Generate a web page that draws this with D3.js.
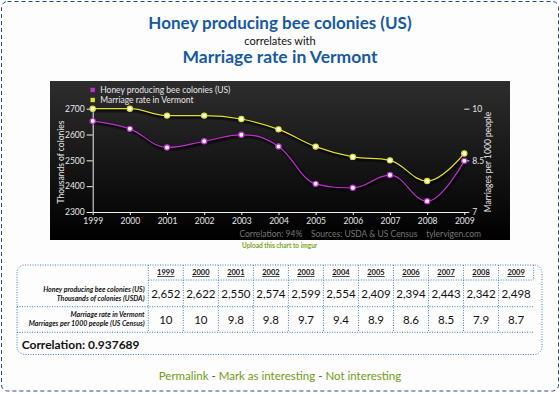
<!DOCTYPE html>
<html>
<head>
<meta charset="utf-8">
<script src="https://cdn.jsdelivr.net/npm/d3@7"></script>
<style>
  html, body { margin: 0; padding: 0; background: #fff; }
  svg { display: block; }
  text { font-family: Lato, "DejaVu Sans", sans-serif; }
</style>
</head>
<body>
<div id="chart"></div>
<script>
// values
var years = [1999, 2000, 2001, 2002, 2003, 2004, 2005, 2006, 2007, 2008, 2009];
var honey = [2652, 2622, 2550, 2574, 2599, 2554, 2409, 2394, 2443, 2342, 2498];
var marriage = [10, 10, 9.8, 9.8, 9.7, 9.4, 8.9, 8.6, 8.5, 7.9, 8.7];
var honeyTicks = [2300, 2400, 2500, 2600, 2700];
var marriageTicks = [7, 8.5, 10];

var titleA = 'Honey producing bee colonies (US)';
var titleB = 'Marriage rate in Vermont';
var unitsA = 'Thousands of colonies (USDA)';
var unitsB = 'Marriages per 1000 people (US Census)';
var correlation = 0.937689;

var W = 560, H = 395;
var PURPLE = '#c030d0', YELLOW = '#e0e030';

var svg = d3.select('#chart').append('svg')
    .attr('width', W)
    .attr('height', H);

var defs = svg.append('defs');
var grad = defs.append('linearGradient')
    .attr('id', 'bg')
    .attr('x1', 0).attr('y1', 0).attr('x2', 0).attr('y2', 1);
grad.append('stop').attr('offset', '0%').attr('stop-color', '#2d2d2d');
grad.append('stop').attr('offset', '100%').attr('stop-color', '#000');

// page frame
svg.append('rect')
    .attr('x', 1.5).attr('y', 1.5)
    .attr('width', W - 3).attr('height', 389.5)
    .attr('rx', 6)
    .attr('fill', '#fdfdfd')
    .attr('stroke', '#1d4c8e')
    .attr('stroke-dasharray', '4,3');

// headline
svg.append('text')
    .attr('x', 280).attr('y', 29)
    .attr('text-anchor', 'middle')
    .attr('font-size', 17).attr('font-weight', 'bold')
    .attr('fill', '#17599f')
    .text(titleA);
svg.append('text')
    .attr('x', 280).attr('y', 44.5)
    .attr('text-anchor', 'middle')
    .attr('font-size', 11)
    .attr('fill', '#111')
    .text('correlates with');
svg.append('text')
    .attr('x', 280).attr('y', 62.5)
    .attr('text-anchor', 'middle')
    .attr('font-size', 17.5).attr('font-weight', 'bold')
    .attr('fill', '#17599f')
    .text(titleB);

// dark chart panel
svg.append('rect')
    .attr('x', 50).attr('y', 81)
    .attr('width', 460).attr('height', 159)
    .attr('fill', 'url(#bg)');

var x = d3.scaleLinear().domain([1999, 2009]).range([92.7, 464.3]);
var yL = d3.scaleLinear().domain([2300, 2700]).range([212, 108.7]);
var yR = d3.scaleLinear().domain([7, 10]).range([212, 108.7]);

// spline in the style of highcharts: control points at 1.5 smoothing,
// flattened where they would make a false extreme
function SplineCurve(context) { this._context = context; }
SplineCurve.prototype = {
    areaStart: function() {},
    areaEnd: function() {},
    lineStart: function() { this._pts = []; },
    point: function(px, py) { this._pts.push([+px, +py]); },
    lineEnd: function() {
        var pts = this._pts, ctx = this._context, n = pts.length;
        if (!n) return;
        var ctl = pts.map(function(p, i) {
            var last = pts[i - 1], next = pts[i + 1];
            if (!last || !next) return null;
            var s = 1.5, den = s + 1;
            var lx = (s * p[0] + last[0]) / den, ly = (s * p[1] + last[1]) / den;
            var rx = (s * p[0] + next[0]) / den, ry = (s * p[1] + next[1]) / den;
            var corr = 0;
            if (rx !== lx) corr = ((ry - ly) * (rx - p[0])) / (rx - lx) + p[1] - ry;
            ly += corr; ry += corr;
            if (ly > last[1] && ly > p[1]) { ly = Math.max(last[1], p[1]); ry = 2 * p[1] - ly; }
            else if (ly < last[1] && ly < p[1]) { ly = Math.min(last[1], p[1]); ry = 2 * p[1] - ly; }
            if (ry > next[1] && ry > p[1]) { ry = Math.max(next[1], p[1]); ly = 2 * p[1] - ry; }
            else if (ry < next[1] && ry < p[1]) { ry = Math.min(next[1], p[1]); ly = 2 * p[1] - ry; }
            return { l: [lx, ly], r: [rx, ry] };
        });
        ctx.moveTo(pts[0][0], pts[0][1]);
        for (var i = 1; i < n; i++) {
            var a = ctl[i - 1] ? ctl[i - 1].r : pts[i - 1];
            var b = ctl[i] ? ctl[i].l : pts[i];
            ctx.bezierCurveTo(a[0], a[1], b[0], b[1], pts[i][0], pts[i][1]);
        }
    }
};
var spline = function(context) { return new SplineCurve(context); };

var series = [
    { name: titleA, values: honey, y: yL, color: PURPLE },
    { name: titleB, values: marriage, y: yR, color: YELLOW }
];

// axes
var gLeft = svg.append('g')
    .attr('transform', 'translate(' + x(1999) + ',0)')
    .call(d3.axisLeft(yL).tickValues(honeyTicks).tickFormat(d3.format('d'))
        .tickSize(6).tickSizeOuter(0).tickPadding(2));
var gBottom = svg.append('g')
    .attr('transform', 'translate(0,' + yL(2300) + ')')
    .call(d3.axisBottom(x).tickValues(years).tickFormat(d3.format('d'))
        .tickSize(3).tickSizeOuter(0).tickPadding(3));
var gRight = svg.append('g')
    .attr('transform', 'translate(' + x(2009) + ',0)')
    .call(d3.axisRight(yR).tickValues(marriageTicks).tickFormat(d3.format(''))
        .tickSize(5).tickPadding(3));
gRight.select('.domain').remove();

[gLeft, gBottom, gRight].forEach(function(g) {
    g.selectAll('.domain, line').attr('stroke', '#f0f0f0');
    g.selectAll('text')
        .attr('fill', '#e6e6e6')
        .attr('font-size', 8.5)
        .attr('font-family', 'Lato, sans-serif');
});

svg.append('text')
    .attr('transform', 'translate(63.5,162) rotate(-90)')
    .attr('text-anchor', 'middle')
    .attr('font-size', 8.5)
    .attr('fill', '#e6e6e6')
    .text('Thousands of colonies');
svg.append('text')
    .attr('transform', 'translate(490.5,162) rotate(-90)')
    .attr('text-anchor', 'middle')
    .attr('font-size', 8.5)
    .attr('fill', '#e6e6e6')
    .text('Marriages per 1000 people');

// lines, with a soft offset shadow underneath
var plot = svg.append('g');
series.forEach(function(s) {
    var line = d3.line()
        .x(function(d, i) { return x(years[i]); })
        .y(function(d) { return s.y(d); })
        .curve(spline);
    [5, 3, 1].forEach(function(w) {
        plot.append('path')
            .attr('d', line(s.values))
            .attr('transform', 'translate(1,1.5)')
            .attr('fill', 'none')
            .attr('stroke', '#000')
            .attr('stroke-opacity', 0.3)
            .attr('stroke-width', w);
    });
    plot.append('path')
        .attr('d', line(s.values))
        .attr('fill', 'none')
        .attr('stroke', s.color)
        .attr('stroke-width', 1.2);
});
series.forEach(function(s) {
    plot.selectAll(null)
        .data(s.values)
        .enter().append('circle')
        .attr('cx', function(d, i) { return x(years[i]); })
        .attr('cy', function(d) { return s.y(d); })
        .attr('r', 2.6)
        .attr('fill', '#fff')
        .attr('stroke', s.color)
        .attr('stroke-width', 1.2);
});

// legend
var legend = svg.append('g').selectAll('g')
    .data(series)
    .enter().append('g')
    .attr('transform', function(d, i) { return 'translate(92.7,' + (90 + i * 10) + ')'; });
legend.append('rect')
    .attr('x', -2.2).attr('y', -2.2)
    .attr('width', 4.4).attr('height', 4.4)
    .attr('fill', function(d) { return d.color; });
legend.append('text')
    .attr('x', 7.5).attr('y', 3)
    .attr('font-size', 8.5)
    .attr('fill', '#e6e6e6')
    .text(function(d) { return d.name; });

svg.append('text')
    .attr('x', 481).attr('y', 237.3)
    .attr('text-anchor', 'end')
    .attr('font-size', 8.5)
    .attr('fill', '#777')
    .style('white-space', 'pre')
    .text('Correlation: ' + Math.round(correlation * 100) + '%    Sources: USDA & US Census    tylervigen.com');

svg.append('text')
    .attr('x', 279.6).attr('y', 247.6)
    .attr('text-anchor', 'middle')
    .attr('font-size', 6.5).attr('font-weight', 'bold')
    .attr('fill', '#7aa51a')
    .text('Upload this chart to imgur');

// data table under the chart
var col = d3.scaleBand().domain(years).range([148.3, 533.6]);
var tTop = 265, tHead = 280, tRow1 = 306.7, tRow2 = 332.3, tBottom = 354.5;
var table = svg.append('g');
var dotted = function(sel) {
    return sel.attr('stroke', '#3b82c4')
        .attr('stroke-width', 1)
        .attr('stroke-dasharray', '1,1.5')
        .attr('fill', 'none');
};
table.append('rect')
    .attr('x', 17).attr('y', tTop)
    .attr('width', 525).attr('height', tBottom - tTop)
    .attr('rx', 8)
    .call(dotted);
table.selectAll(null)
    .data(years.concat(['end']))
    .enter().append('line')
    .attr('x1', function(d) { return d === 'end' ? col.range()[1] : col(d); })
    .attr('x2', function(d) { return d === 'end' ? col.range()[1] : col(d); })
    .attr('y1', tTop)
    .attr('y2', function(d) { return d === 'end' ? tHead : tRow2; })
    .call(dotted);
table.append('line')
    .attr('x1', col(1999)).attr('x2', col.range()[1])
    .attr('y1', tHead).attr('y2', tHead)
    .call(dotted);
[tRow1, tRow2].forEach(function(yy) {
    table.append('line')
        .attr('x1', 17).attr('x2', col.range()[1])
        .attr('y1', yy).attr('y2', yy)
        .call(dotted);
});

table.selectAll(null)
    .data(years)
    .enter().append('text')
    .attr('x', function(d) { return col(d) + col.bandwidth() / 2; })
    .attr('y', 275)
    .attr('text-anchor', 'middle')
    .attr('font-size', 7.5).attr('font-weight', 'bold')
    .attr('text-decoration', 'underline')
    .attr('fill', '#111')
    .text(function(d) { return d; });

var rows = [
    { label: titleA, units: unitsA, values: honey, fmt: d3.format(','), y: 294.3 },
    { label: titleB, units: unitsB, values: marriage, fmt: d3.format(''), y: 319.5 }
];
rows.forEach(function(r) {
    table.append('text')
        .attr('x', 144.5).attr('y', r.y - 2.5)
        .attr('text-anchor', 'end')
        .attr('font-size', 7).attr('font-style', 'italic').attr('font-weight', 'bold')
        .attr('fill', '#111')
        .text(r.label);
    table.append('text')
        .attr('x', 144.5).attr('y', r.y + 6.5)
        .attr('text-anchor', 'end')
        .attr('font-size', 7).attr('font-style', 'italic').attr('font-weight', 'bold')
        .attr('fill', '#111')
        .text(r.units);
    table.selectAll(null)
        .data(r.values)
        .enter().append('text')
        .attr('x', function(d, i) { return col(years[i]) + col.bandwidth() / 2; })
        .attr('y', r.y + 4)
        .attr('text-anchor', 'middle')
        .attr('font-size', 11.5)
        .attr('fill', '#111')
        .text(function(d) { return r.fmt(d); });
});

table.append('text')
    .attr('x', 21.7).attr('y', 348.5)
    .attr('font-size', 12).attr('font-weight', 'bold')
    .attr('fill', '#111')
    .text('Correlation: ' + correlation);

// footer links
var links = svg.append('text')
    .attr('x', 280).attr('y', 380)
    .attr('text-anchor', 'middle')
    .attr('font-size', 11.5)
    .style('white-space', 'pre');
[['Permalink', '#6f9c14'], [' - ', '#555'], ['Mark as interesting', '#6f9c14'],
 [' - ', '#555'], ['Not interesting', '#6f9c14']].forEach(function(p) {
    links.append('tspan').attr('fill', p[1]).text(p[0]);
});
</script>
</body>
</html>
